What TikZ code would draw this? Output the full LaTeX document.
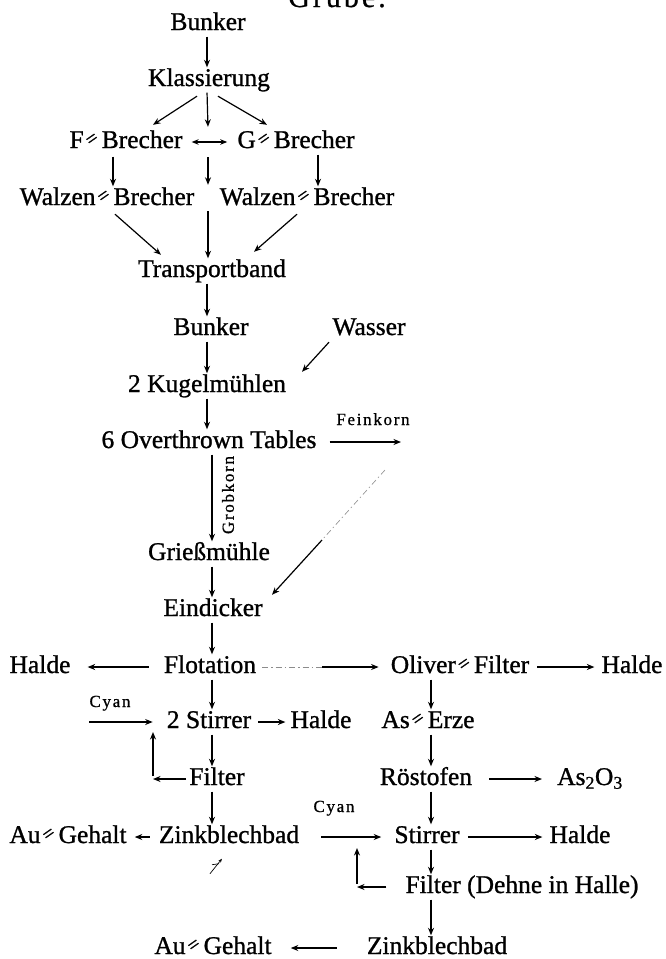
\documentclass[tikz,border=0pt]{standalone}
\usepackage{fontspec}
\usepackage{graphicx}
\setmainfont{Liberation Serif}
\newfontfamily\printserif[FakeBold=1]{Liberation Serif}
\newfontfamily\spacedserif[LetterSpace=10,FakeBold=0.8]{Liberation Serif}
\usetikzlibrary{arrows.meta,calc}
% double hyphen of the old German setting
\newcommand\dbh{\kern0.07em\raisebox{0.14em}{\rotatebox[origin=c]{35}{\scalebox{0.8}[0.75]{=}}}\kern0.07em}
\newcommand\mainsize{\printserif\fontsize{25.5}{28}\selectfont}
\newcommand\smallsize{\spacedserif\fontsize{17}{19}\selectfont}

\begin{document}
\begin{tikzpicture}[x=1pt,y=-1pt,
  lbl/.style={inner sep=0pt, anchor=base, text height=17.5pt, text depth=5.5pt, font=\mainsize},
  note/.style={inner sep=0pt, anchor=base, font=\smallsize},
  arr/.style={line width=1.2pt, -{Stealth[length=7.5pt,width=6pt]}},
  dbl/.style={line width=1.2pt, {Stealth[length=7pt,width=5.5pt]}-{Stealth[length=7pt,width=5.5pt]}},
  faint/.style={line width=0.6pt, black!45, dash pattern=on 6pt off 3pt on 1.5pt off 3pt},
  vgap/.style={shorten <=1pt, shorten >=1pt},
  spacer/.style={inner sep=0pt, minimum width=0pt, minimum height=#1},
]
\useasboundingbox (0,0) rectangle (666,959);
\fill[white] (0,0) rectangle (666,959);

% columns of the vertical connectors
\coordinate (colU) at (207,0);
\coordinate (colL) at (212,0);
\coordinate (colR) at (431,0);

% heading
\node[font=\spacedserif\fontsize{30}{32}\selectfont, anchor=base, inner sep=0pt] (grube) at (337,7) {Grube.};

% crushing
\node[lbl] (bunk1) at (208,30) {Bunker};
\node[lbl] (klass) at (209,86) {Klassierung};
\node[lbl] (fbr) at (126,148) {F\dbh Brecher};
\node[lbl] (gbr) at (296,148) {G\dbh Brecher};
\node[spacer=28pt] (gap1) at (208,142) {};
\node[lbl] (wbl) at (107,205) {Walzen\dbh Brecher};
\node[lbl] (wbr) at (307,205) {Walzen\dbh Brecher};
\node[spacer=24pt] (gap2) at (208,198) {};
\node[lbl] (trans) at (212,277) {Transportband};

% grinding
\node[lbl] (bunk2) at (211,335) {Bunker};
\node[lbl] (wasser) at (369,335) {Wasser};
\node[lbl] (kugel) at (207,392) {2 Kugelmühlen};
\node[lbl] (tables) at (209,448) {6 Overthrown Tables};
\node[note] (fein) at (373,425) {Feinkorn};
\coordinate (fkend) at (401,442);
\coordinate (fkdrop) at (385,470);
\coordinate (fkmid) at (322,540);
\node[note, rotate=90, anchor=center] (grob) at (228,495) {Grobkorn};
\node[lbl] (griess) at (209,560) {Grießmühle};
\node[lbl] (eind) at (213,616) {Eindicker};

% flotation and cyanidation
\node[lbl] (haldeA) at (40,673) {Halde};
\node[lbl] (flot) at (210,673) {Flotation};
\coordinate (fo) at (322,667);
\node[lbl] (oliver) at (460,673) {Oliver\dbh Filter};
\node[lbl] (haldeB) at (632,673) {Halde};
\node[note] (cyanA) at (110,707) {Cyan};
\coordinate (cyanS) at (89,722);
\node[lbl] (stir2) at (209,728) {2 Stirrer};
\node[lbl] (haldeC) at (321,728) {Halde};
\node[lbl] (aserze) at (428,728) {As\dbh Erze};
\node[lbl] (filt1) at (217,785) {Filter};
\coordinate (loopA) at (153,779);
\coordinate (loopAtop) at (153,732);
\node[lbl] (roest) at (426,785) {Röstofen};
\node[lbl] (as2o3) at (590,785) {As\textsubscript{2}O\textsubscript{3}};
\node[lbl] (augehA) at (68,843) {Au\dbh Gehalt};
\node[lbl] (zinkA) at (229,843) {Zinkblechbad};
\node[note] (cyanB) at (334,812) {Cyan};
\node[lbl] (stir) at (427,843) {Stirrer};
\node[lbl] (haldeD) at (580,843) {Halde};
\node[lbl] (filt2) at (522,893) {Filter (Dehne in Halle)};
\coordinate (loopB) at (357,887);
\coordinate (loopBtop) at (357,848);
\node[lbl] (augehB) at (213,954) {Au\dbh Gehalt};
\node[lbl] (zinkB) at (437,954) {Zinkblechbad};

% connectors: crushing
\draw[arr,vgap] (bunk1.south -| colU) -- (klass.north -| colU);
\draw[arr] ($(klass.south)+(-12,4.5)$) -- ($(fbr.north)+(27,-5.5)$);
\draw[arr,vgap] (klass.south -| colU) -- (gap1.north);
\draw[arr] ($(klass.south)+(9,4.5)$) -- ($(gbr.north)+(-29,-5.5)$);
\draw[dbl, shorten <=9pt, shorten >=10pt] (fbr.east) -- (gbr.west);
\draw[arr,vgap] ($(fbr.south)+(-13,2)$) -- ($(fbr.south |- wbl.north)+(-13,0)$);
\draw[arr,vgap] (gap1.south) -- (gap2.north);
\draw[arr,vgap] ($(wbr.north |- gbr.south)+(11,0)$) -- ($(wbr.north)+(11,0)$);
\draw[arr] ($(wbl.south)+(8,3.5)$) -- ($(trans.north)+(-51,-4.5)$);
\draw[arr,vgap] (gap2.south) -- (trans.north -| gap2);
\draw[arr] ($(wbr.south)+(-10,3.5)$) -- ($(trans.north)+(42,-7.5)$);

% connectors: grinding
\draw[arr,vgap] (trans.south -| colU) -- (bunk2.north -| colU);
\draw[arr,vgap] (bunk2.south -| colU) -- (kugel.north -| colU);
\draw[arr] ($(wasser.south)+(-40,1.5)$) -- ($(kugel.north)+(95,-2.5)$);
\draw[arr,vgap] (kugel.south -| colU) -- (tables.north -| colU);
\draw[arr, shorten <=13pt] (tables.east) -- (fkend);
\draw[arr,vgap] (tables.south -| colL) -- (griess.north -| colL);
\draw[faint] (fkdrop) -- (fkmid);
\draw[arr] (fkmid) -- ($(eind.north)+(59,-3.5)$);
\draw[arr,vgap] (griess.south -| colL) -- (eind.north -| colL);
\draw[arr,vgap] (eind.south -| colL) -- (flot.north -| colL);

% connectors: flotation and cyanidation
\draw[arr, shorten <=15pt, shorten >=17pt] (flot.west) -- (haldeA.east);
\draw[faint, shorten <=6pt] (flot.east) -- (fo);
\draw[arr, shorten >=12pt] (fo) -- (oliver.west);
\draw[arr, shorten <=8pt, shorten >=7pt] (oliver.east) -- (haldeB.west);
\draw[arr,vgap] (flot.south -| colL) -- (stir2.north -| colL);
\draw[arr,vgap] (oliver.south -| colR) -- (aserze.north -| colR);
\draw[arr, shorten >=14pt] (cyanS) -- (stir2.west);
\draw[arr, shorten <=7pt, shorten >=5pt] (stir2.east) -- (haldeC.west);
\draw[arr,vgap] (stir2.south -| colL) -- (filt1.north -| colL);
\draw[arr,vgap] (aserze.south -| colR) -- (roest.north -| colR);
\draw[arr, shorten <=3pt] (filt1.west) -- (loopA);
\draw[arr, shorten <=3pt] (loopA) -- (loopAtop);
\draw[arr, shorten <=17pt, shorten >=15pt] (roest.east) -- (as2o3.west);
\draw[arr,vgap] (filt1.south -| colL) -- (zinkA.north -| colL);
\draw[arr,vgap] (roest.south -| colR) -- (stir.north -| colR);
\draw[arr, shorten <=9pt, shorten >=8pt] (zinkA.west) -- (augehA.east);
\draw[arr, shorten <=22pt, shorten >=13pt] (zinkA.east) -- (stir.west);
\draw[arr, shorten <=8pt, shorten >=7pt] (stir.east) -- (haldeD.west);
\draw[arr,vgap] (stir.south -| colR) -- (filt2.north -| colR);
\draw[arr, shorten <=19pt] (filt2.west) -- (loopB);
\draw[arr, shorten <=3pt] (loopB) -- (loopBtop);
\draw[arr,vgap] (filt2.south -| colR) -- (zinkB.north -| colR);
\draw[arr, shorten <=30pt, shorten >=19pt] (zinkB.west) -- (augehB.east);

% small mark below the first zinc bath
\draw[line width=0.7pt, -{Stealth[length=4pt,width=3pt]}] ($(zinkA.south)+(-19,25)$) -- ($(zinkA.south)+(-7,10)$);
\draw[line width=0.7pt] ($(zinkA.south)+(-17,16)$) -- ($(zinkA.south)+(-10,15)$);
\end{tikzpicture}
\end{document}
